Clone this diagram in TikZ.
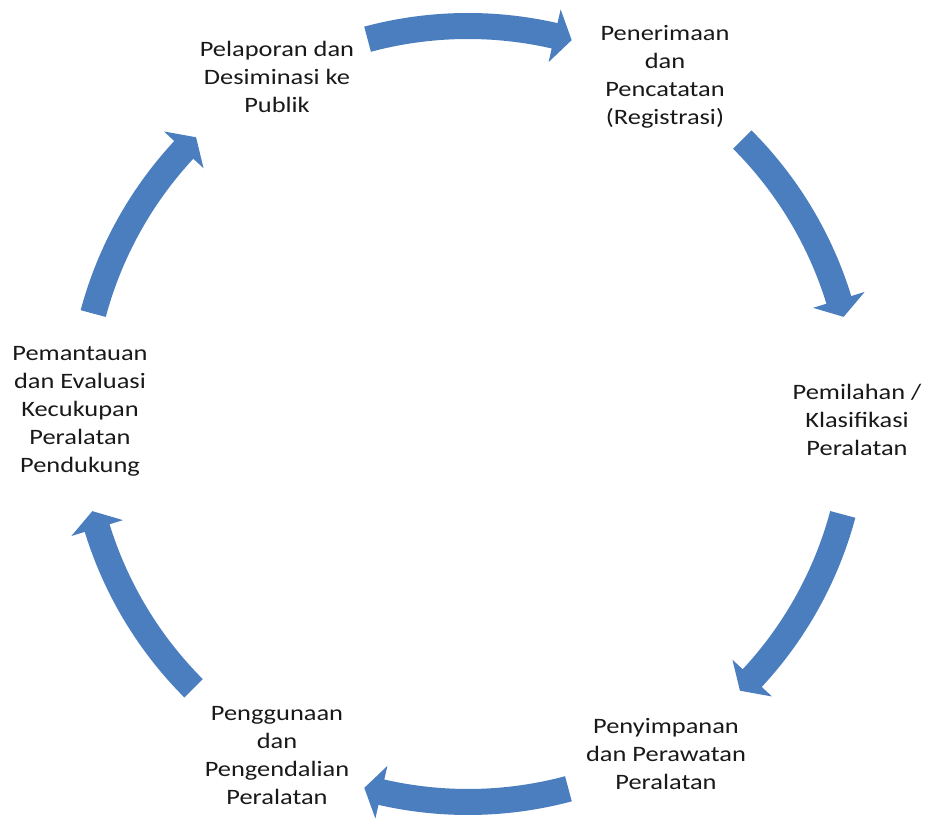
\documentclass[tikz,border=0pt]{standalone}
\usepackage{fontspec}
\setmainfont{Carlito}[FakeStretch=1.2]
\definecolor{cycblue}{HTML}{4A7EBF}
\begin{document}
\begin{tikzpicture}[x=1pt,y=1pt,
  lbl/.style={align=center, font=\fontsize{22}{28}\selectfont, inner sep=0pt, text=black!90}]
\useasboundingbox (0,0) rectangle (930,821);
\node[lbl] (pelaporan)   at (277,744) {Pelaporan dan\\Desiminasi ke\\Publik};
\node[lbl] (penerimaan)  at (665,744) {Penerimaan\\dan\\Pencatatan\\(Registrasi)};
\node[lbl] (pemilahan)   at (857,401) {Pemilahan /\\Klasifikasi\\Peralatan};
\node[lbl] (penyimpanan) at (666,67)  {Penyimpanan\\dan Perawatan\\Peralatan};
\node[lbl] (penggunaan)  at (277,65)  {Penggunaan\\dan\\Pengendalian\\Peralatan};
\node[lbl] (pemantauan)  at (80,410)  {Pemantauan\\dan Evaluasi\\Kecukupan\\Peralatan\\Pendukung};
\begin{scope}[shift={(468,407)}]
\foreach \c in {90,30,-30,-90,-150,-210}{
  \pgfmathsetmacro\aa{\c+15}
  \pgfmathsetmacro\ab{\c-15.5}
  \pgfmathsetmacro\ah{\c-15.5+2.6}
  \fill[cycblue] (\aa:401) arc[start angle=\aa, end angle=\ah, radius=401]
     -- (\ah:415) -- (\ab:388) -- (\ah:361)
     -- (\ah:375) arc[start angle=\ah, end angle=\aa, radius=375] -- cycle;
}
\end{scope}
\end{tikzpicture}
\end{document}
